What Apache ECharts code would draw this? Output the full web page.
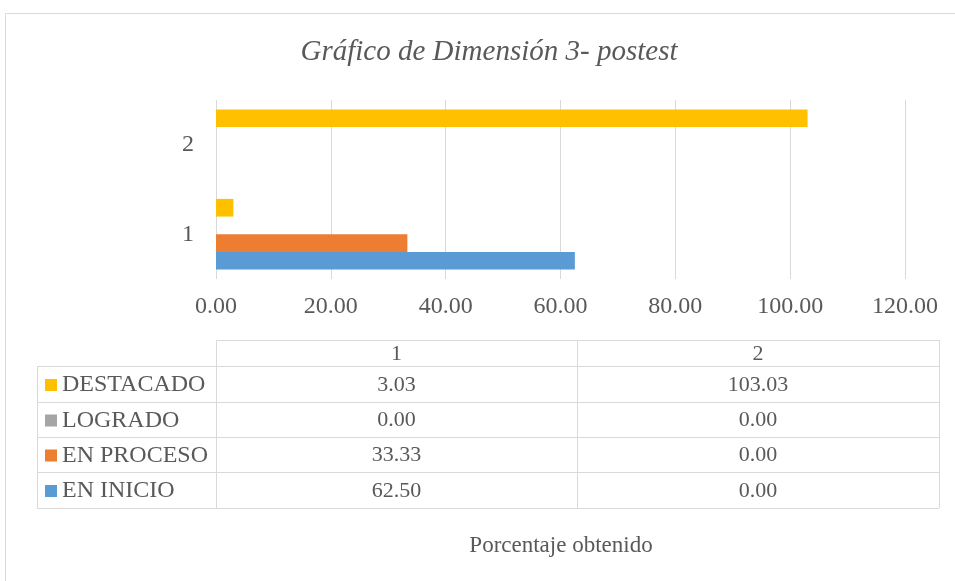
<!DOCTYPE html>
<html>
<head>
<meta charset="utf-8">
<script src="https://cdn.jsdelivr.net/npm/echarts@6/dist/echarts.min.js"></script>
<style>html,body{margin:0;padding:0;background:#fff}#c{width:955px;height:581px}</style>
</head>
<body>
<div id="c"></div>
<script>
const titleText = 'Gráfico de Dimensión 3- postest';
const axisTitle = 'Porcentaje obtenido';
const categories = ['1', '2'];
const seriesNames = ['EN INICIO', 'EN PROCESO', 'LOGRADO', 'DESTACADO'];
const enInicio = [62.50, 0.00];
const enProceso = [33.33, 0.00];
const logrado = [0.00, 0.00];
const destacado = [3.03, 103.03];
const xTickMin = 0, xTickMax = 120, xTickStep = 20;

const seriesValues = [enInicio, enProceso, logrado, destacado];
const colors = ['#5B9BD5', '#ED7D31', '#A5A5A5', '#FFC000'];
const FONT = '"Liberation Serif", "Times New Roman", serif';
const TXT = '#595959';

const chart = echarts.init(document.getElementById('c'), null, {renderer: 'canvas'});

const order = [3, 2, 1, 0];
const series = order.map(i => ({
  name: seriesNames[i],
  type: 'bar',
  data: seriesValues[i],
  itemStyle: {color: colors[i]},
  barGap: '0%',
  barCategoryGap: '21%',
  silent: true
}));

function txt(x, y, text, size, align, italic) {
  return {type: 'text', x: x, y: y, silent: true, style: {
    text: text, fontFamily: FONT, fontSize: size, fontStyle: italic ? 'italic' : 'normal',
    fill: TXT, align: align, verticalAlign: 'middle'}};
}

const colX = [37, 216, 577, 939];
const rowY = [340, 366, 402, 437, 472, 508];
const lineColor = '#D9D9D9';
const g = [];
g.push({type: 'rect', silent: true, shape: {x: 5.5, y: 13.5, width: 1000, height: 700}, style: {fill: 'none', stroke: '#D9D9D9', lineWidth: 1}});
g.push(txt(489, 52, titleText, 29, 'center', true));
g.push({type: 'line', silent: true, shape: {x1: colX[1], y1: rowY[0] + 0.5, x2: colX[3], y2: rowY[0] + 0.5}, style: {stroke: lineColor, lineWidth: 1}});
for (let r = 1; r < rowY.length; r++) {
  g.push({type: 'line', silent: true, shape: {x1: colX[0], y1: rowY[r] + 0.5, x2: colX[3], y2: rowY[r] + 0.5}, style: {stroke: lineColor, lineWidth: 1}});
}
g.push({type: 'line', silent: true, shape: {x1: colX[0] + 0.5, y1: rowY[1], x2: colX[0] + 0.5, y2: rowY[5]}, style: {stroke: lineColor, lineWidth: 1}});
for (let c = 1; c < colX.length; c++) {
  g.push({type: 'line', silent: true, shape: {x1: colX[c] + 0.5, y1: rowY[0], x2: colX[c] + 0.5, y2: rowY[5]}, style: {stroke: lineColor, lineWidth: 1}});
}
categories.forEach((cat, j) => {
  g.push(txt((colX[j + 1] + colX[j + 2]) / 2, (rowY[0] + rowY[1]) / 2 + 1, cat, 22, 'center'));
});
[3, 2, 1, 0].forEach((si, r) => {
  const yc = (rowY[r + 1] + rowY[r + 2]) / 2 + 1;
  g.push({type: 'rect', silent: true, shape: {x: 45, y: yc - 6, width: 12, height: 12}, style: {fill: colors[si]}});
  g.push(txt(62, yc, seriesNames[si], 24, 'left'));
  categories.forEach((cat, j) => {
    g.push(txt((colX[j + 1] + colX[j + 2]) / 2, yc, seriesValues[si][j].toFixed(2), 22, 'center'));
  });
});
g.push(txt(561, 546, axisTitle, 23, 'center'));

chart.setOption({
  animation: false,
  grid: {left: 216, right: 50, top: 100, height: 179, containLabel: false},
  xAxis: {
    type: 'value', min: xTickMin, max: xTickMax, interval: xTickStep,
    axisLine: {show: false}, axisTick: {show: false},
    splitLine: {lineStyle: {color: '#D9D9D9', width: 1}},
    axisLabel: {formatter: v => v.toFixed(2), color: TXT, fontFamily: FONT, fontSize: 24, margin: 16}
  },
  yAxis: {
    type: 'category', data: categories,
    axisLine: {show: false}, axisTick: {show: false},
    axisLabel: {color: TXT, fontFamily: FONT, fontSize: 24, margin: 22}
  },
  series: series,
  graphic: g
});
</script>
</body>
</html>
